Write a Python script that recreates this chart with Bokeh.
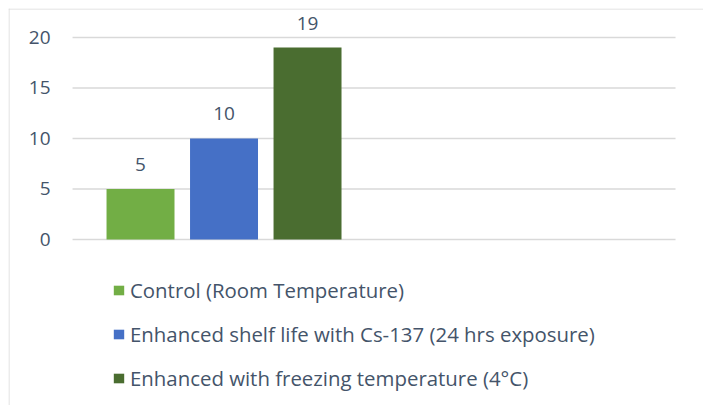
from bokeh.plotting import figure
from bokeh.models import (Range1d, Legend, LegendItem, ColumnDataSource,
                          LabelSet, Span)
from bokeh.core.properties import value
from bokeh.embed import file_html
from bokeh.resources import INLINE

series = ["Control (Room Temperature)",
          "Enhanced shelf life with Cs-137 (24 hrs exposure)",
          "Enhanced with freezing temperature (4°C)"]
values = [5, 10, 19]
colors = ["#72ae45", "#4570c6", "#4a6d30"]
y_ticks = [0, 5, 10, 15, 20]

TEXT = "#44546a"
FONT = "Open Sans"
GRID = "#d9d9d9"

X0, X1 = -0.581, 7.742     # frame x range
Y0, Y1 = -16.44, 22.87     # frame y range
PLOT_L, PLOT_R = 0.186, 7.407  # plot-area extent (gridlines)

p = figure(width=703, height=405, output_backend="svg", toolbar_location=None,
           x_range=Range1d(X0, X1), y_range=Range1d(Y0, Y1),
           x_axis_location=None, y_axis_location=None,
           min_border_left=8, min_border_right=0,
           min_border_top=8, min_border_bottom=0)
p.outline_line_color = None
p.xgrid.visible = False
p.ygrid.visible = False

# chart border (top and left edges)
p.add_layout(Span(location=X0 + 0.006, dimension="height", line_color=GRID, line_width=1))
p.add_layout(Span(location=Y1 - 0.05, dimension="width", line_color=GRID, line_width=1))

# gridlines
p.segment(x0=[PLOT_L] * len(y_ticks), x1=[PLOT_R] * len(y_ticks),
          y0=y_ticks, y1=y_ticks, line_color=GRID, line_width=1.5)

# tick labels
tsrc = ColumnDataSource(dict(x=[PLOT_L] * len(y_ticks), y=y_ticks,
                             t=[str(t) for t in y_ticks]))
p.add_layout(LabelSet(x="x", y="y", text="t", source=tsrc, x_offset=-22,
                      text_align="right", text_baseline="middle",
                      text_font=value(FONT), text_font_size=value("19px"),
                      text_color=TEXT))

xs = [i + 1 for i in range(len(values))]
src = ColumnDataSource(dict(x=xs, top=values, label=[str(v) for v in values]))
items = []
for i in range(len(values)):
    r = p.vbar(x=[xs[i]], top=[values[i]], bottom=0, width=0.814,
               fill_color=colors[i], line_color=None)
    items.append(LegendItem(label=series[i], renderers=[r]))

p.add_layout(LabelSet(x="x", y="top", text="label", source=src, y_offset=18,
                      text_align="center", text_baseline="bottom",
                      text_font=value(FONT), text_font_size=value("19px"),
                      text_color=TEXT))

legend = Legend(items=items, location=(104, 13), orientation="vertical",
                glyph_width=13, glyph_height=12, label_standoff=5,
                spacing=16, padding=0, margin=0,
                border_line_color=None, background_fill_alpha=0,
                label_text_font=FONT, label_text_font_size="20.4px",
                label_text_color=TEXT)
p.add_layout(legend)

open("out.html", "w").write(file_html(p, INLINE))
